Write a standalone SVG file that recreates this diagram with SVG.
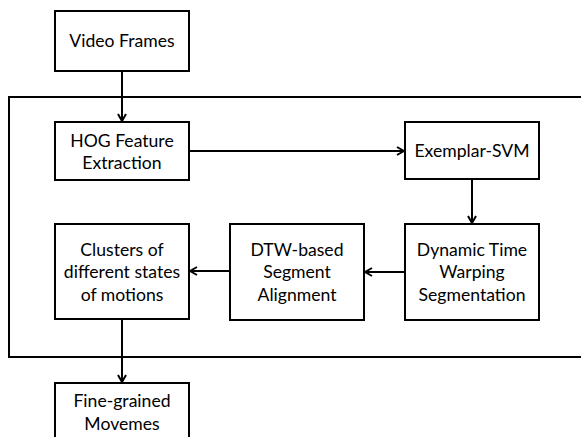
<svg xmlns="http://www.w3.org/2000/svg" width="581" height="437" viewBox="0 0 581 437">
  <style>
    .box { fill: #ffffff; stroke: #000000; stroke-width: 2; }
    .frame { fill: none; stroke: #000000; stroke-width: 2; }
    .edge { fill: none; stroke: #000000; stroke-width: 2; marker-end: url(#arrow); }
    text { font-family: Lato, "Open Sans", "Liberation Sans", sans-serif; font-size: 17.6px; fill: #000000; text-anchor: middle; }
  </style>
  <defs>
    <marker id="arrow" viewBox="0 0 10 10" refX="9" refY="5" markerWidth="10" markerHeight="10" markerUnits="userSpaceOnUse" orient="auto">
      <path d="M2,1 L9,5 L2,9" fill="none" stroke="#000000" stroke-width="2"/>
    </marker>
  </defs>
  <rect width="581" height="437" fill="#ffffff"/>

  <!-- enclosing frame (right edge runs off the canvas) -->
  <rect class="frame" x="9" y="97" width="600" height="260"/>

  <g id="connectors">
    <line class="edge" x1="122" y1="71" x2="122" y2="121"/>
    <line class="edge" x1="189" y1="151" x2="404" y2="151"/>
    <line class="edge" x1="472" y1="179" x2="472" y2="223"/>
    <line class="edge" x1="405" y1="272" x2="365" y2="272"/>
    <line class="edge" x1="230" y1="271" x2="190" y2="271"/>
    <line class="edge" x1="122" y1="319" x2="122" y2="382"/>
  </g>

  <g id="video-frames">
    <rect class="box" x="55" y="11" width="134" height="60"/>
    <text x="122" y="47">Video Frames</text>
  </g>
  <g id="hog">
    <rect class="box" x="55" y="122" width="134" height="58"/>
    <text x="122" y="147">HOG Feature</text>
    <text x="122" y="169">Extraction</text>
  </g>
  <g id="exemplar-svm">
    <rect class="box" x="405" y="122" width="134" height="57"/>
    <text x="472" y="157">Exemplar-SVM</text>
  </g>
  <g id="dtw-segmentation">
    <rect class="box" x="405" y="224" width="134" height="96"/>
    <text x="472" y="256">Dynamic Time</text>
    <text x="472" y="278">Warping</text>
    <text x="472" y="301">Segmentation</text>
  </g>
  <g id="dtw-alignment">
    <rect class="box" x="230" y="224" width="134" height="96"/>
    <text x="297" y="256">DTW-based</text>
    <text x="297" y="278">Segment</text>
    <text x="297" y="301">Alignment</text>
  </g>
  <g id="clusters">
    <rect class="box" x="55" y="224" width="134" height="95"/>
    <text x="122" y="256">Clusters of</text>
    <text x="122" y="278">different states</text>
    <text x="122" y="301">of motions</text>
  </g>
  <g id="movemes">
    <rect class="box" x="55" y="383" width="134" height="70"/>
    <text x="122" y="407">Fine-grained</text>
    <text x="122" y="430">Movemes</text>
  </g>
</svg>
